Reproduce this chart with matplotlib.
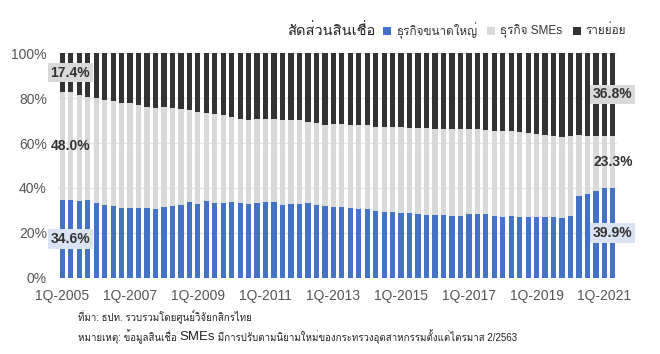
"""Loan share by borrower type (large corp / SMEs / retail), quarterly 1Q-2005 to 2Q-2021."""

import matplotlib
matplotlib.use("Agg")
import matplotlib.pyplot as plt  # noqa: E402
import numpy as np  # noqa: E402
from matplotlib import font_manager as fm  # noqa: E402
from matplotlib.ft2font import FT2Font  # noqa: E402
from matplotlib.patches import Rectangle  # noqa: E402

QUARTERS = [f"{q}Q-{y}" for y in range(2005, 2022) for q in (1, 2, 3, 4)][:66]

LARGE = [34.6, 34.5, 34.3, 34.6, 33.1, 32.5, 32.2, 31.1, 31.2, 31.2,
         31.1, 30.8, 31.5, 32.2, 32.4, 33.6, 32.8, 34.2, 33.4, 33.4,
         33.6, 33.3, 32.8, 33.1, 33.7, 33.6, 32.5, 32.8, 33.0, 33.4,
         32.5, 31.9, 31.6, 31.4, 31.1, 30.8, 30.8, 29.9, 29.3, 29.1,
         29.0, 28.7, 28.4, 28.1, 27.9, 27.8, 27.5, 27.6, 28.4, 28.5,
         28.2, 27.6, 27.0, 27.5, 27.2, 27.2, 26.9, 27.0, 27.3, 26.6,
         27.6, 36.4, 37.3, 38.5, 39.8, 39.9]
SME = [48.0, 48.1, 47.0, 45.8, 47.1, 46.7, 46.4, 46.9, 46.5, 45.6,
       44.7, 44.7, 44.6, 43.4, 42.9, 41.3, 41.2, 39.1, 39.4, 39.1,
       38.0, 37.6, 37.5, 37.6, 37.0, 37.0, 37.6, 37.5, 37.1, 36.1,
       36.3, 36.2, 36.9, 37.0, 37.0, 37.1, 37.1, 37.4, 37.9, 38.1,
       38.0, 38.0, 38.3, 38.5, 38.5, 38.5, 38.6, 38.5, 37.7, 37.6,
       37.5, 37.9, 38.5, 37.9, 37.9, 37.4, 37.1, 36.6, 35.7, 36.0,
       35.7, 27.0, 25.8, 24.5, 23.1, 23.3]
RETAIL = [17.4, 17.4, 18.7, 19.6, 19.8, 20.8, 21.4, 22.0, 22.3, 23.2,
          24.2, 24.5, 23.9, 24.4, 24.7, 25.1, 26.0, 26.7, 27.2, 27.5,
          28.4, 29.1, 29.7, 29.3, 29.3, 29.4, 29.9, 29.7, 29.9, 30.5,
          31.2, 31.9, 31.5, 31.6, 31.9, 32.1, 32.1, 32.7, 32.8, 32.8,
          33.0, 33.3, 33.3, 33.4, 33.6, 33.7, 33.9, 33.9, 33.9, 33.9,
          34.3, 34.5, 34.5, 34.6, 34.9, 35.4, 36.0, 36.4, 37.0, 37.4,
          36.7, 36.6, 36.9, 37.0, 37.1, 36.8]

SERIES = ["ธุรกิจขนาดใหญ่", "ธุรกิจ SMEs", "รายย่อย"]
COLORS = ["#4472c4", "#d9d9d9", "#333333"]
LEGEND_TITLE = "สัดส่วนสินเชื่อ"
SOURCE = "ที่มา: ธปท. รวบรวมโดยศูนย์วิจัยกสิกรไทย"
NOTE = ["หมายเหตุ: ข้อมูลสินเชื่อ ", "SMEs", " มีการปรับตามนิยามใหม่ของกระทรวงอุตสาหกรรมตั้งแต่ไตรมาส 2/2563"]


def _thai_font():
    for f in fm.fontManager.ttflist:
        try:
            if ord("ส") in FT2Font(f.fname).get_charmap():
                return f.name
        except Exception:
            pass
    return "DejaVu Sans"


THAI = _thai_font()
FAM = ["Liberation Sans", THAI, "DejaVu Sans"]
plt.rcParams["font.family"] = FAM


def main():
    fig = plt.figure(figsize=(6.6, 3.54), dpi=100)
    ax = fig.add_axes([0.088, 0.215, 0.847, 0.635])
    x = np.arange(len(QUARTERS))
    large, sme, retail = map(np.array, (LARGE, SME, RETAIL))

    ax.bar(x, large, width=0.62, color=COLORS[0], zorder=2)
    ax.bar(x, sme, width=0.62, bottom=large, color=COLORS[1], zorder=2)
    ax.bar(x, retail, width=0.62, bottom=large + sme, color=COLORS[2], zorder=2)

    ax.set_xlim(-0.5, len(x) - 0.5)
    ax.set_ylim(0, 100)
    ax.set_yticks(range(0, 101, 20))
    ax.set_yticklabels([f"{v}%" for v in range(0, 101, 20)])
    ax.set_xticks(x[::8])
    ax.set_xticklabels(QUARTERS[::8])
    ax.tick_params(length=0, labelsize=10, labelcolor="#555555")
    ax.tick_params(axis="y", pad=8)
    ax.tick_params(axis="x", pad=8)
    ax.grid(axis="y", color="#e6e6e6", lw=1, zorder=0)
    for s in ax.spines.values():
        s.set_visible(False)

    # end-point labels
    lab = dict(ha="center", va="center", fontsize=10, fontweight="bold", color="#333333", zorder=5)
    for xi, i in ((0.95, 0), (len(x) - 1, len(x) - 1)):
        ax.text(xi, large[i] / 2, f"{large[i]:.1f}%", bbox=dict(boxstyle="square,pad=0.2", fc="#dae3f3", ec="none"), **lab)
        ax.text(xi, large[i] + sme[i] / 2, f"{sme[i]:.1f}%", **lab)
        ax.text(xi, large[i] + sme[i] + retail[i] / 2, f"{retail[i]:.1f}%", bbox=dict(boxstyle="square,pad=0.2", fc="#d9d9d9", ec="none"), **lab)

    # legend row across the top, laid out right to left so it ends at ~626 px
    W, H = fig.get_size_inches() * fig.dpi
    fig.canvas.draw()
    r = fig.canvas.get_renderer()
    yc = 1 - 31 / H
    right = 626
    for name, c in reversed(list(zip(SERIES, COLORS))):
        t = fig.text(right / W, yc, name, fontsize=8.5, color="#333333", va="center", ha="right")
        left = t.get_window_extent(r).x0
        sq = left - 13
        fig.patches.append(Rectangle((sq / W, 1 - 35 / H), 8 / W, 8 / H, transform=fig.transFigure, fc=c, ec="none"))
        right = sq - 10
    fig.text((sq - 8) / W, yc, LEGEND_TITLE, fontsize=10.5, color="#222222", va="center", ha="right")

    # footnotes
    fig.text(78 / W, 1 - 316 / H, SOURCE, fontsize=7, color="#222222", va="center")
    t = fig.text(78 / W, 1 - 337 / H, NOTE[0], fontsize=7, color="#222222", va="center")
    for part, size in zip(NOTE[1:], (9.5, 7)):
        bb = t.get_window_extent(r)
        t = fig.text(bb.x1 / W, 1 - 337 / H, part, fontsize=size, color="#222222", va="center")

    fig.savefig("out.png", dpi=100)
    plt.close(fig)


if __name__ == "__main__":
    main()
